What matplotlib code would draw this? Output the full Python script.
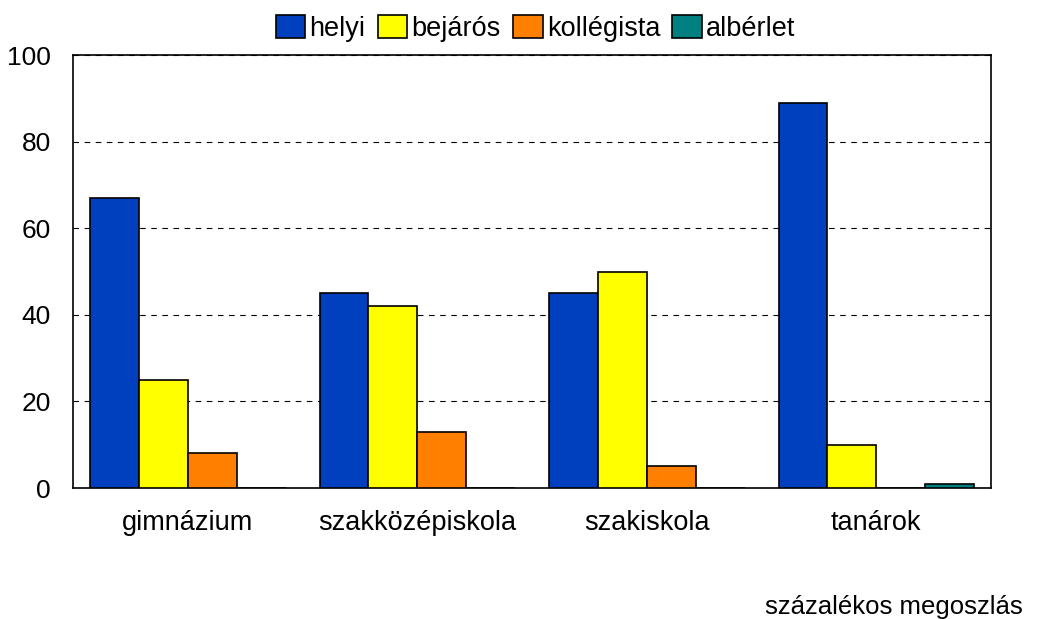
import numpy as np
import matplotlib.pyplot as plt

plt.rcParams['font.family'] = ['Liberation Sans', 'DejaVu Sans']

categories = ['gimnázium', 'szakközépiskola', 'szakiskola', 'tanárok']
series = ['helyi', 'bejárós', 'kollégista', 'albérlet']
helyi = [67, 45, 45, 89]
bejaros = [25, 42, 50, 10]
kollegista = [8, 13, 5, 0]
alberlet = [0, 0, 0, 1]
values = [helyi, bejaros, kollegista, alberlet]
colors = ['#0040BF', '#FFFF00', '#FF8000', '#008080']

fig = plt.figure(figsize=(10.4, 6.19), dpi=100)
ax = fig.add_axes([0.0702, 0.2116, 0.8828, 0.6994])

x = np.arange(len(categories))
w = 0.213
for i, (name, vals) in enumerate(zip(series, values)):
    pos = x - 1.5 * w + i * w
    ec = ['black' if v > 1 else 'none' for v in vals]
    ax.bar(pos, vals, width=w, color=colors[i], edgecolor=ec, linewidth=1.2,
           label=name, zorder=3)

ax.set_xlim(-0.5, 3.5)
ax.set_ylim(0, 100)
ax.set_yticks([0, 20, 40, 60, 80, 100])
ax.set_xticks(x)
ax.set_xticklabels(categories)
ax.tick_params(axis='x', length=0, labelsize=19.5, pad=16)
ax.tick_params(axis='y', length=0, labelsize=19, pad=16)
ax.yaxis.grid(True, linestyle=(0, (5, 5)), color='black', linewidth=0.8)
for s in ax.spines.values():
    s.set_linewidth(1.2)

handles, labels = ax.get_legend_handles_labels()
for h in handles:
    for p in h.patches:
        p.set_edgecolor('black')
leg = fig.legend(handles, labels, loc='upper center', bbox_to_anchor=(0.515, 1.015),
                 ncol=4, frameon=False, fontsize=19.5, handlelength=1.1,
                 handleheight=0.9, handletextpad=0.15, columnspacing=0.45)

fig.text(0.983, 0.0, 'százalékos megoszlás', ha='right', va='bottom', fontsize=18.5)

fig.savefig('out.png', dpi=100)
